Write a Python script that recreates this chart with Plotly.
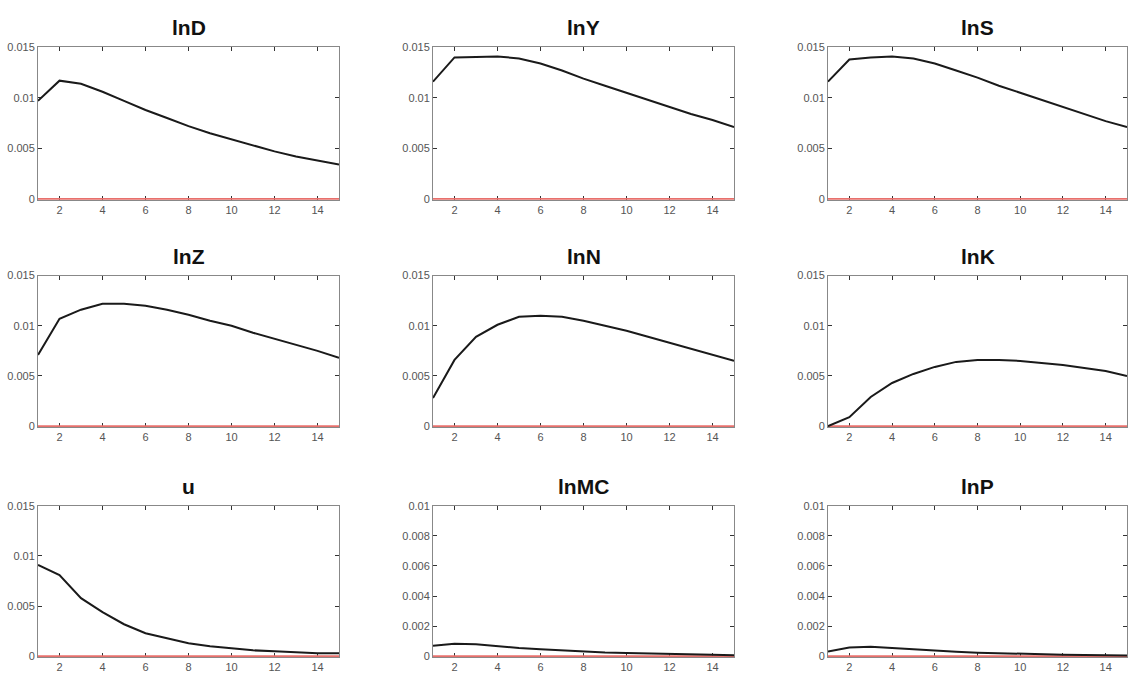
import plotly.graph_objects as go

periods = list(range(1, 16))

titles = ["lnD", "lnY", "lnS", "lnZ", "lnN", "lnK", "u", "lnMC", "lnP"]

lnD = [0.0097, 0.0117, 0.0114, 0.0106, 0.0097, 0.0088, 0.0080, 0.0072, 0.0065, 0.0059, 0.0053, 0.0047, 0.0042, 0.0038, 0.0034]
lnY = [0.0116, 0.0140, 0.01405, 0.0141, 0.0139, 0.0134, 0.0127, 0.0119, 0.0112, 0.0105, 0.0098, 0.0091, 0.0084, 0.0078, 0.0071]
lnS = [0.0116, 0.0138, 0.0140, 0.0141, 0.0139, 0.0134, 0.0127, 0.0120, 0.0112, 0.0105, 0.0098, 0.0091, 0.0084, 0.0077, 0.0071]
lnZ = [0.0071, 0.0107, 0.0116, 0.0122, 0.0122, 0.0120, 0.0116, 0.0111, 0.0105, 0.0100, 0.0093, 0.0087, 0.0081, 0.0075, 0.0068]
lnN = [0.0028, 0.0066, 0.0089, 0.0101, 0.0109, 0.0110, 0.0109, 0.0105, 0.0100, 0.0095, 0.0089, 0.0083, 0.0077, 0.0071, 0.0065]
lnK = [0.0000, 0.0009, 0.0029, 0.0043, 0.0052, 0.0059, 0.0064, 0.0066, 0.0066, 0.0065, 0.0063, 0.0061, 0.0058, 0.0055, 0.0050]
u = [0.0091, 0.0081, 0.0058, 0.0044, 0.0032, 0.0023, 0.0018, 0.0013, 0.0010, 0.0008, 0.0006, 0.0005, 0.0004, 0.0003, 0.0003]
lnMC = [0.00070, 0.00084, 0.00080, 0.00065, 0.00055, 0.00048, 0.00040, 0.00032, 0.00026, 0.00022, 0.00018, 0.00015, 0.00012, 0.00010, 0.00008]
lnP = [0.00032, 0.00058, 0.00063, 0.00054, 0.00046, 0.00038, 0.00030, 0.00024, 0.00020, 0.00017, 0.00014, 0.00011, 0.00009, 0.00007, 0.00005]

series = [lnD, lnY, lnS, lnZ, lnN, lnK, u, lnMC, lnP]

x_ticks = [2, 4, 6, 8, 10, 12, 14]
y_ticks_a = [0, 0.005, 0.01, 0.015]
y_text_a = ["0", "0.005", "0.01", "0.015"]
y_ticks_b = [0, 0.002, 0.004, 0.006, 0.008, 0.01]
y_text_b = ["0", "0.002", "0.004", "0.006", "0.008", "0.01"]
y_max = [0.015, 0.015, 0.015, 0.015, 0.015, 0.015, 0.015, 0.01, 0.01]

W, H = 1128, 678
col_px = [(38, 339), (433, 734), (828, 1127)]
row_px = [(42, 197), (274, 428), (508, 662)]

tick_font = dict(family="Liberation Sans Narrow, Arial Narrow, Liberation Sans, Arial", size=11, color="#555")

fig = go.Figure()
annotations = []
for i, (name, vals) in enumerate(zip(titles, series)):
    r, c = divmod(i, 3)
    k = i + 1
    xa = "xaxis" if k == 1 else f"xaxis{k}"
    ya = "yaxis" if k == 1 else f"yaxis{k}"
    xr = "x" if k == 1 else f"x{k}"
    yr = "y" if k == 1 else f"y{k}"
    fig.add_trace(go.Scatter(x=periods, y=[0] * len(periods), mode="lines",
                             line=dict(color="#e8706c", width=2),
                             xaxis=xr, yaxis=yr, showlegend=False, hoverinfo="skip"))
    fig.add_trace(go.Scatter(x=periods, y=vals, mode="lines",
                             line=dict(color="#1a1a1a", width=2),
                             xaxis=xr, yaxis=yr, showlegend=False, name=name))
    x0, x1 = col_px[c]
    y0, y1 = row_px[r]
    yt, ytt = (y_ticks_a, y_text_a) if y_max[i] > 0.011 else (y_ticks_b, y_text_b)
    fig.layout[xa] = dict(domain=[x0 / W, x1 / W], anchor=yr, range=[1, 15],
                          tickvals=x_ticks, ticks="inside", ticklen=4, tickcolor="#333",
                          showline=True, linecolor="#888", linewidth=1, mirror="ticks",
                          showgrid=False, zeroline=False, layer="below traces",
                          tickfont=tick_font)
    fig.layout[ya] = dict(domain=[1 - y1 / H, 1 - y0 / H], anchor=xr,
                          range=[-y_max[i] * 0.006, y_max[i]],
                          tickvals=yt, ticktext=ytt, ticks="inside", ticklen=4, tickcolor="#333",
                          showline=True, linecolor="#888", linewidth=1, mirror="ticks",
                          showgrid=False, zeroline=False, layer="below traces",
                          tickfont=tick_font)
    annotations.append(dict(text="<b>" + name + "</b>", x=(x0 + x1) / 2 / W, y=1 - (y0 - 6) / H,
                            xref="paper", yref="paper", xanchor="center", yanchor="bottom",
                            showarrow=False,
                            font=dict(family="Liberation Sans Narrow, Arial Narrow, Liberation Sans, Arial",
                                      size=21, color="#111")))

fig.update_layout(width=W, height=H, margin=dict(l=0, r=0, t=0, b=0),
                  paper_bgcolor="white", plot_bgcolor="white",
                  annotations=annotations, showlegend=False)

fig.write_html("out.html")
